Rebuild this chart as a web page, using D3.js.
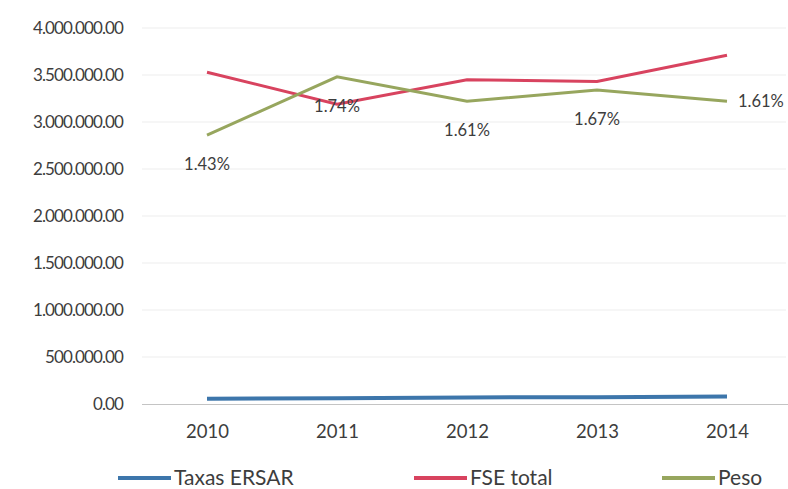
<!DOCTYPE html>
<html>
<head>
<meta charset="utf-8">
<script src="https://cdn.jsdelivr.net/npm/d3@7"></script>
<style>
    body { margin: 0; background: #fff; }
    text { font-family: Lato, "Open Sans", sans-serif; fill: #3d3d3d; }
</style>
</head>
<body>
<div id="container"></div>
<script>
// chart data
const years = ["2010", "2011", "2012", "2013", "2014"];
const taxasErsar = [55000, 62000, 70000, 72000, 80000];
const fseTotal = [3530000, 3190000, 3450000, 3430000, 3710000];
const peso = [1.43, 1.74, 1.61, 1.67, 1.61];   // % on hidden secondary axis
const yTicks = [0, 500000, 1000000, 1500000, 2000000, 2500000, 3000000, 3500000, 4000000];

const colors = { taxas: "#3d76ab", fse: "#d8435f", peso: "#97a65e" };

const width = 788;
const height = 489;
const marginTop = 28;
const marginRight = -4;
const marginBottom = 85;
const marginLeft = 142;

const locale = d3.formatLocale({ decimal: ".", thousands: ".", grouping: [3], currency: ["", ""] });
const fmt = locale.format(",.2f");

const x = d3.scalePoint()
    .domain(years)
    .range([marginLeft, width - marginRight])
    .padding(0.5);

const y = d3.scaleLinear()
    .domain([0, 4000000])
    .range([height - marginBottom, marginTop]);

// secondary scale for Peso (not drawn)
const y2 = d3.scaleLinear()
    .domain([0, 2])
    .range([height - marginBottom, marginTop]);

const svg = d3.create("svg")
    .attr("width", width)
    .attr("height", height);

// gridlines
svg.append("g")
    .selectAll("line")
    .data(yTicks.slice(1))
    .join("line")
    .attr("x1", marginLeft)
    .attr("x2", 786)
    .attr("y1", d => y(d))
    .attr("y2", d => y(d))
    .attr("stroke", "#ededed")
    .attr("stroke-width", 1);

// y axis labels
const yAxis = svg.append("g")
    .attr("transform", `translate(${marginLeft - 19},0)`)
    .call(d3.axisLeft(y).tickValues(yTicks).tickFormat(fmt).tickSize(0).tickPadding(0));
yAxis.select(".domain").remove();
yAxis.selectAll("text")
    .style("font-size", "17px")
    .style("letter-spacing", "-0.9px")
    .attr("fill", "#3d3d3d")
    .attr("dy", "0.35em");

// x axis
const xAxis = svg.append("g")
    .attr("transform", `translate(0,${y(0)})`)
    .call(d3.axisBottom(x).tickSize(0).tickPadding(21));
xAxis.select(".domain").attr("stroke", "#c4c4c4").attr("d", `M${marginLeft},0.5H788`);
xAxis.selectAll("text").style("font-size", "18.5px").attr("fill", "#3d3d3d");

svg.append("path")
    .datum(taxasErsar)
    .attr("fill", "none")
    .attr("stroke", colors.taxas)
    .attr("stroke-width", 4)
    .attr("d", d3.line().x((d, i) => x(years[i])).y(d => y(d)));

svg.append("path")
    .datum(fseTotal)
    .attr("fill", "none")
    .attr("stroke", colors.fse)
    .attr("stroke-width", 3)
    .attr("d", d3.line().x((d, i) => x(years[i])).y(d => y(d)));

svg.append("path")
    .datum(peso)
    .attr("fill", "none")
    .attr("stroke", colors.peso)
    .attr("stroke-width", 3)
    .attr("d", d3.line().x((d, i) => x(years[i])).y(d => y2(d)));

// data labels for Peso
svg.append("g")
    .selectAll("text")
    .data(peso)
    .join("text")
    .attr("x", (d, i) => i === peso.length - 1 ? x(years[i]) + 11 : x(years[i]))
    .attr("y", (d, i) => i === peso.length - 1 ? y2(d) : y2(d) + 29)
    .attr("dy", "0.35em")
    .attr("text-anchor", (d, i) => i === peso.length - 1 ? "start" : "middle")
    .style("font-size", "16.5px")
    .text(d => d.toFixed(2) + "%");

// legend
const legend = [
    { name: "Taxas ERSAR", color: colors.taxas, x: 118 },
    { name: "FSE total", color: colors.fse, x: 414 },
    { name: "Peso", color: colors.peso, x: 662 }
];
const lg = svg.append("g").selectAll("g").data(legend).join("g")
    .attr("transform", d => `translate(${d.x},478)`);
lg.append("line")
    .attr("x1", 0).attr("x2", 53)
    .attr("stroke", d => d.color)
    .attr("stroke-width", 4);
lg.append("text")
    .attr("x", 56)
    .attr("dy", "0.35em")
    .style("font-size", "21px")
    .text(d => d.name);

container.append(svg.node());
</script>
</body>
</html>
